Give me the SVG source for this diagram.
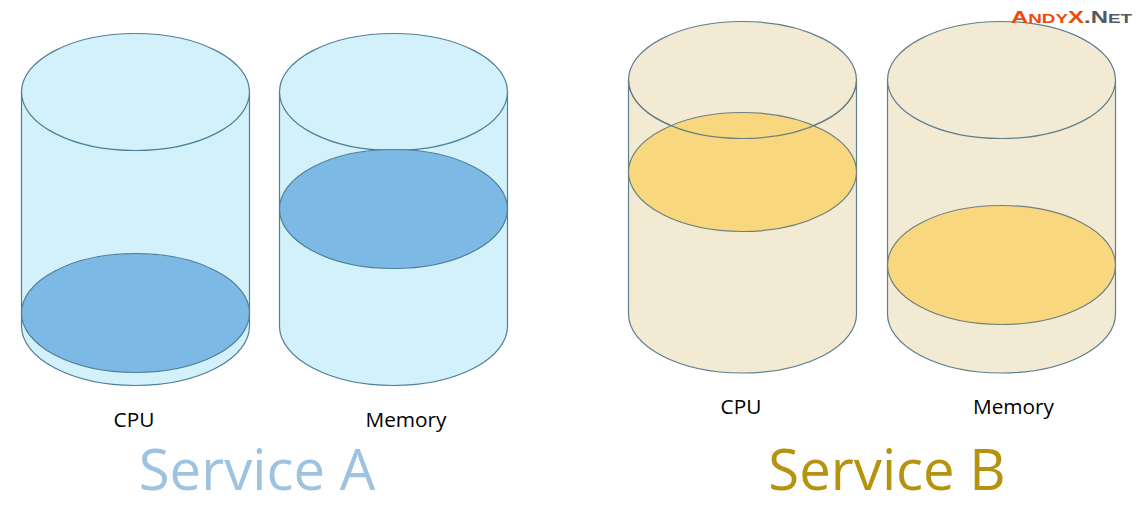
<svg xmlns="http://www.w3.org/2000/svg" width="1141" height="519" viewBox="0 0 1141 519">
<style>
.a{fill:#d2f1fa;stroke:#4f7f98;stroke-width:1.200}
.af{fill:#7cb9e5;stroke:#4f7f98;stroke-width:1.200}
.b{fill:#f3ead3;stroke:#5f7f8c;stroke-width:1.200}
.bf{fill:#f8d77e;stroke:#6f8080;stroke-width:1.200}
.o{fill:none;stroke:#6f8080;stroke-width:1.200}
.l{font-family:"Open Sans","Noto Sans",sans-serif;font-size:20.800px;fill:#000}
.t{font-family:"Open Sans","Noto Sans",sans-serif;font-size:56.300px}
.w{font-family:"Liberation Sans",Arial,sans-serif;font-weight:700}
</style>
<rect width="1141" height="519" fill="#fff"/>
<g id="service-a-cpu">
<path class="a" d="M21.500 92V326A114 59.500 0 0 0 249.500 326V92Z"/>
<ellipse class="a" cx="135.500" cy="92" rx="114" ry="58.500"/>
<ellipse class="af" cx="135.500" cy="313" rx="114" ry="59.500"/>
</g>
<g id="service-a-memory">
<path class="a" d="M279.500 92V326A114 59.500 0 0 0 507.500 326V92Z"/>
<ellipse class="a" cx="393.500" cy="92" rx="114" ry="58.500"/>
<ellipse class="af" cx="393.500" cy="209" rx="114" ry="59.500"/>
</g>
<g id="service-b-cpu">
<path class="b" d="M628.500 80V314A114 59 0 0 0 856.500 314V80Z"/>
<ellipse class="b" cx="742.500" cy="80" rx="114" ry="58.500"/>
<ellipse class="bf" cx="742.500" cy="172" rx="114" ry="59.500"/>
<path class="o" d="M628.500 80A114 58.500 0 0 0 856.500 80"/>
</g>
<g id="service-b-memory">
<path class="b" d="M887.500 80V314A114 59 0 0 0 1115.500 314V80Z"/>
<ellipse class="b" cx="1001.500" cy="80" rx="114" ry="58.500"/>
<ellipse class="bf" cx="1001.500" cy="265" rx="114" ry="59.500"/>
</g>
<g id="labels">
<text class="l" x="134" y="426.500" text-anchor="middle">CPU</text>
<text class="l" x="406" y="426.500" text-anchor="middle">Memory</text>
<text class="l" x="741" y="413.500" text-anchor="middle">CPU</text>
<text class="l" x="1013.500" y="413.500" text-anchor="middle">Memory</text>
<text class="t" x="257" y="490" text-anchor="middle" fill="#9dc3e0">Service A</text>
<text class="t" x="887" y="490" text-anchor="middle" fill="#b5930f">Service B</text>
</g>
<g id="watermark">
<text class="w" x="1011" y="22.500" font-size="16.500" fill="#f04a0a" textLength="121" lengthAdjust="spacingAndGlyphs">A<tspan font-size="13">NDY</tspan>X<tspan fill="#555a60">.N<tspan font-size="13">ET</tspan></tspan></text>
</g>
</svg>
